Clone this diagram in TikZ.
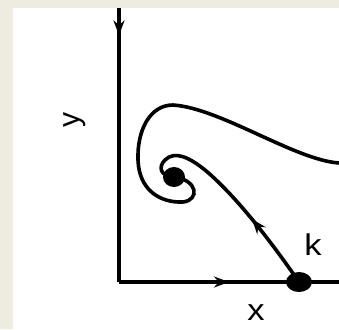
\documentclass[tikz,border=0pt]{standalone}
\usepackage{fontspec}
\setmainfont{Liberation Sans}
\usepackage{tikz}
\usetikzlibrary{arrows.meta,shapes.geometric,decorations.markings,positioning}

\definecolor{bgbeige}{HTML}{EEEBE0}

\tikzset{
  axis/.style={line width=1.9pt},
  traj/.style={line width=1.8pt},
  fixpt/.style={ellipse, fill=black, inner sep=0pt},
  lbl/.style={font=\fontsize{15}{17}\selectfont, inner sep=0pt, xscale=1.15},
  midarrow/.style={postaction={decorate}, decoration={markings,
      mark=at position #1 with {\arrow{Stealth[length=7.5pt,width=5.5pt]}}}}
}

\begin{document}
\begin{tikzpicture}[x=0.5pt, y=-0.5pt]
\useasboundingbox (0,0) rectangle (339,329);
\fill[bgbeige] (0,0) rectangle (339,329);
\fill[white] (13,8) rectangle (339,329);

% axes
\coordinate (top) at (119,8);
\coordinate (origin) at (119,282);
\coordinate (right) at (339,282);
\draw[axis, midarrow=0.1] (top) -- (origin);
\draw[axis, midarrow=0.5] (origin) -- (right);

% fixed points
\node[fixpt, minimum width=13pt, minimum height=10pt] (k) at (299,282) {};
\node[fixpt, minimum width=11pt, minimum height=10pt] (sink) at (174,177) {};

% trajectories
\draw[traj, midarrow=0.36] (k.center) .. controls (270,240) and (235,195) .. (205,170)
  .. controls (190,158) and (175,150) .. (165,160)
  .. controls (158,167) and (160,176) .. (sink.center);
\coordinate (edge) at (339,163);
\draw[traj] (edge) .. controls (295,160) and (220,108) .. (173,105)
  .. controls (150,105) and (137,130) .. (138,160)
  .. controls (139,190) and (160,203) .. (183,202)
  .. controls (200,200) and (198,180) .. (sink.center);

% labels
\node[lbl] (klabel) at (313,245) {k};
\node[lbl] (xlabel) at (256,313) {x};
\node[lbl, xscale=1/1.15, rotate=90] (ylabel) at (75,120) {y};
\end{tikzpicture}
\end{document}
